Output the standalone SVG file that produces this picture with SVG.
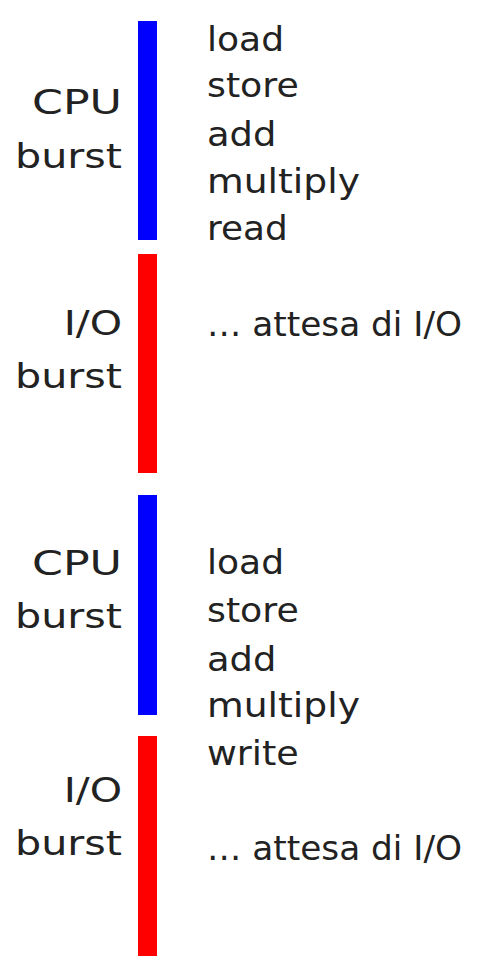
<svg xmlns="http://www.w3.org/2000/svg" width="490" height="960" viewBox="0 0 490 960">
<style>
  .t{font-family:"DejaVu Sans","Liberation Sans",sans-serif;font-size:33px;fill:#222}
  .r{text-anchor:end}
  .cpu{fill:#0000ff}
  .io{fill:#ff0000}
</style>
<rect width="490" height="960" fill="#fff"/>
<g id="cpu1">
  <rect class="cpu" x="138" y="21" width="19" height="219"/>
  <text class="t r" x="122" y="114" textLength="90" lengthAdjust="spacingAndGlyphs">CPU</text>
  <text class="t r" x="122" y="168" textLength="107" lengthAdjust="spacingAndGlyphs">burst</text>
  <text class="t" x="207" y="51" textLength="77" lengthAdjust="spacingAndGlyphs">load</text>
  <text class="t" x="207" y="97" textLength="91.7" lengthAdjust="spacingAndGlyphs">store</text>
  <text class="t" x="207" y="146" textLength="69.3" lengthAdjust="spacingAndGlyphs">add</text>
  <text class="t" x="207" y="193" textLength="153" lengthAdjust="spacingAndGlyphs">multiply</text>
  <text class="t" x="207" y="240" textLength="80.7" lengthAdjust="spacingAndGlyphs">read</text>
</g>
<g id="io1">
  <rect class="io" x="138" y="254" width="19" height="219"/>
  <text class="t r" x="122" y="335" textLength="58.3" lengthAdjust="spacingAndGlyphs">I/O</text>
  <text class="t r" x="122" y="388" textLength="107" lengthAdjust="spacingAndGlyphs">burst</text>
  <text class="t" x="207" y="336" textLength="255" lengthAdjust="spacingAndGlyphs">… attesa di I/O</text>
</g>
<g id="cpu2">
  <rect class="cpu" x="138" y="495" width="19" height="220"/>
  <text class="t r" x="122" y="575" textLength="90" lengthAdjust="spacingAndGlyphs">CPU</text>
  <text class="t r" x="122" y="628" textLength="107" lengthAdjust="spacingAndGlyphs">burst</text>
  <text class="t" x="207" y="574" textLength="77" lengthAdjust="spacingAndGlyphs">load</text>
  <text class="t" x="207" y="622" textLength="91.7" lengthAdjust="spacingAndGlyphs">store</text>
  <text class="t" x="207" y="671" textLength="69.3" lengthAdjust="spacingAndGlyphs">add</text>
  <text class="t" x="207" y="717" textLength="153" lengthAdjust="spacingAndGlyphs">multiply</text>
</g>
<g id="io2">
  <rect class="io" x="138" y="736" width="19" height="220"/>
  <text class="t" x="207" y="765" textLength="91.7" lengthAdjust="spacingAndGlyphs">write</text>
  <text class="t r" x="122" y="802" textLength="58.3" lengthAdjust="spacingAndGlyphs">I/O</text>
  <text class="t r" x="122" y="855" textLength="107" lengthAdjust="spacingAndGlyphs">burst</text>
  <text class="t" x="207" y="860" textLength="255" lengthAdjust="spacingAndGlyphs">… attesa di I/O</text>
</g>
<g id="connectors"></g>
</svg>
